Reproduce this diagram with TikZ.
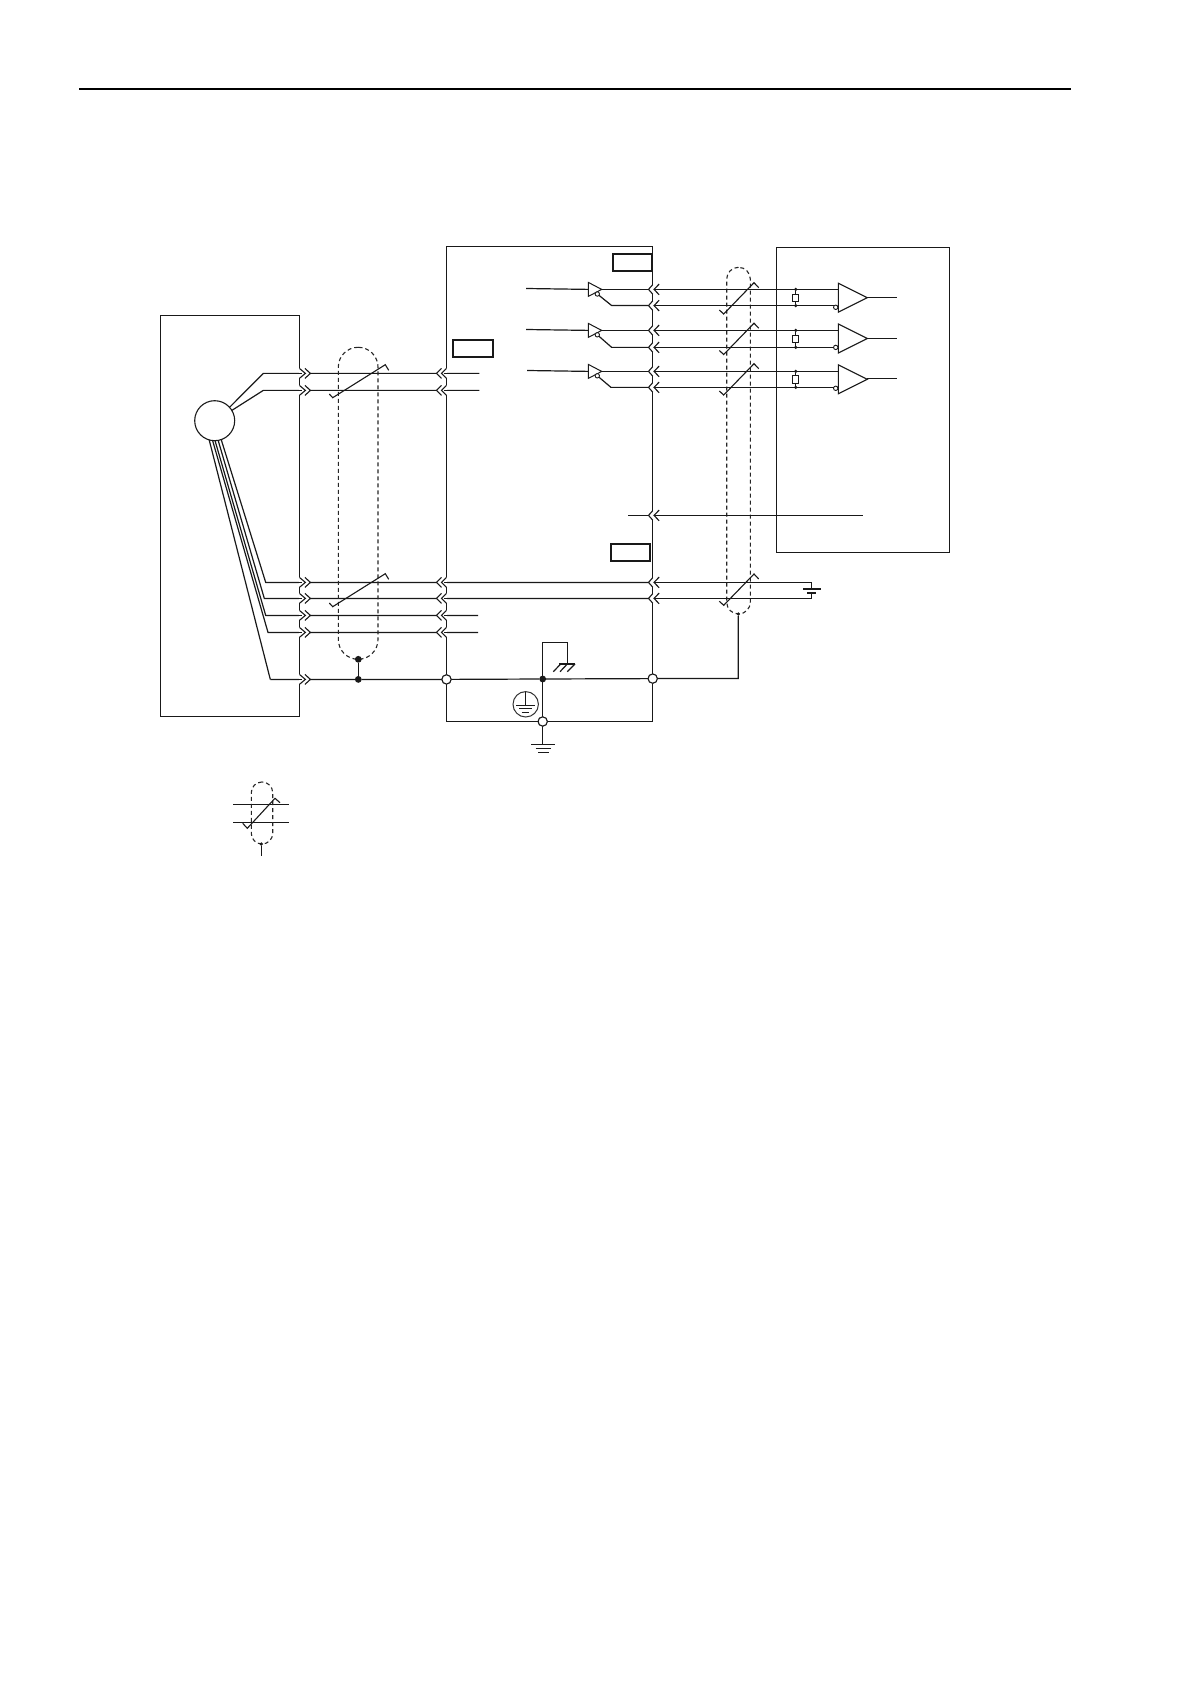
\documentclass[tikz,border=0pt]{standalone}
\usetikzlibrary{fit}
\tikzset{
  wire/.style={line width=0.6pt,black!90,line join=miter},
  boxn/.style={draw,black!90,line width=0.56pt,inner sep=0pt,outer sep=0pt,rectangle},
  labelbox/.style={draw,black!90,line width=1pt,inner sep=0pt,outer sep=0pt,rectangle},
  shieldn/.style={draw,black!85,line width=0.55pt,dash pattern=on 2pt off 1.5pt,inner sep=0pt,outer sep=0pt,rectangle},
  opendot/.style={circle,draw,black!90,fill=white,line width=0.5pt,minimum size=4.6pt,inner sep=0pt,outer sep=0pt},
  soliddot/.style={circle,fill=black!90,minimum size=3.4pt,inner sep=0pt,outer sep=0pt},
  tinydot/.style={circle,fill=black!90,minimum size=1.8pt,inner sep=0pt,outer sep=0pt},
  bubble/.style={circle,draw,black!90,fill=white,line width=0.45pt,minimum size=2.2pt,inner sep=0pt,outer sep=0pt},
  resistor/.style={rectangle,draw,black!90,fill=white,line width=0.5pt,minimum width=3.2pt,minimum height=3.8pt,inner sep=0pt,outer sep=0pt},
  chevr/.pic={\fill[white] (-0.8,-5) rectangle (10.6,5);
     \draw[wire,line width=0.55pt] (-0.8,0)--(3,0);
     \draw[wire,line width=0.55pt] (0,-5)--(6,0)--(0,5) (5.5,-5)--(11,0)--(5.5,5);},
  chevl/.pic={\fill[white] (-9.6,-5) rectangle (0.8,5);
     \draw[wire,line width=0.55pt] (0.8,0)--(-2.5,0);
     \draw[wire,line width=0.55pt] (0,-5)--(-5,0)--(0,5) (-5,-5)--(-10,0)--(-5,5);},
  chevw/.pic={\fill[white] (-3.9,-4.7) rectangle (1.2,4.7);
     \draw[wire,line width=0.55pt] (0,-4.7)--(-4.2,0)--(0,4.7) (6.4,-5.3)--(1.3,0)--(6.4,5.3);},
  slashlong/.pic={\draw[wire,line width=0.55pt] (0,0)--(3.4,3.7)--(56,-29.3)--(59.4,-23.7);},
  slashsteep/.pic={\draw[wire,line width=0.55pt] (0,0)--(4.4,4)--(34.7,-27.3)--(39.4,-22.3);},
  driver/.pic={\draw[wire,line width=0.5pt] (0,-7)--(13.4,0)--(0,7)--cycle;},
  receiver/.pic={\draw[wire,line width=0.55pt] (0,-14.5)--(29,0)--(0,14.5)--cycle;},
}
\begin{document}
\begin{tikzpicture}[x=0.5pt,y=-0.5pt]
\useasboundingbox (0,0) rectangle (1190,1684);
\fill[white] (0,0) rectangle (1190,1684);

% header rule
\coordinate (ruleL) at (79,89.2);
\coordinate (ruleR) at (1071,89.2);
\draw[line width=1pt,black] (ruleL)--(ruleR);

% main boxes
\coordinate (mA) at (160.5,315.4); \coordinate (mB) at (299.4,716.4);
\node[boxn,fit=(mA)(mB)] (motorbox) {};
\coordinate (sA) at (446.5,246.5); \coordinate (sB) at (652.6,721.5);
\node[boxn,fit=(sA)(sB)] (servobox) {};
\coordinate (cA) at (776.5,247.4); \coordinate (cB) at (949.5,552.4);
\node[boxn,fit=(cA)(cB)] (ctrlbox) {};

% empty label boxes
\coordinate (l1A) at (453,340.3); \coordinate (l1B) at (493,357);
\node[labelbox,fit=(l1A)(l1B)] (lblcn2) {};
\coordinate (l2A) at (613,254.3); \coordinate (l2B) at (652,271);
\node[labelbox,fit=(l2A)(l2B)] (lblcn1) {};
\coordinate (l3A) at (610.5,543.6); \coordinate (l3B) at (650,560.6);
\node[labelbox,fit=(l3A)(l3B)] (lblcn3) {};

% motor
\node[circle,draw,black!90,fill=white,line width=0.55pt,minimum size=20pt,inner sep=0pt,outer sep=0pt] (motor) at (214.7,420.7) {};
\coordinate (k1) at (263.3,373.4);
\coordinate (k2) at (263.3,390.4);
\coordinate (k3) at (265.7,582.4);
\coordinate (k4) at (264.3,598.4);
\coordinate (k5) at (265.7,615.4);
\coordinate (k6) at (268,632.4);
\coordinate (k7) at (270.3,679.4);
\coordinate (e1) at (479.3,373.4);
\coordinate (e2) at (479.3,390.4);
\coordinate (e3) at (652.7,582.4);
\coordinate (e4) at (652.7,598.4);
\coordinate (e5) at (478,615.4);
\coordinate (e6) at (478,632.4);
\draw[wire] (motor.42)--(k1)--(e1);
\draw[wire] (motor.31)--(k2)--(e2);
\draw[wire] (motor.-71)--(k3)--(e3);
\draw[wire] (motor.-80)--(k4)--(e4);
\draw[wire] (motor.-89)--(k5)--(e5);
\draw[wire] (motor.-96)--(k6)--(e6);
\draw[wire] (motor.-106)--(k7);

% ground bus
\node[opendot] (gL) at (446.5,679.4) {};
\node[opendot] (gR) at (652.7,678.6) {};
\node[soliddot] (gJ) at (542.7,679) {};
\node[opendot] (gB) at (542.7,721.5) {};
\node[soliddot] (sdot2) at (358.3,679.4) {};
\draw[wire] (k7)--(sdot2)--(gL)--(gJ)--(gR);

% left shield
\coordinate (shA) at (338.3,347.3); \coordinate (shB) at (378,659.3);
\node[shieldn,rounded corners=9.9pt,fit=(shA)(shB)] (shieldL) {};
\node[soliddot] (sdot1) at (358.3,659.3) {};
\draw[wire] (sdot1)--(sdot2);

% right shield
\coordinate (srA) at (726.7,267.3); \coordinate (srB) at (750.3,614);
\node[shieldn,rounded corners=5.9pt,fit=(srA)(srB)] (shieldR) {};
\node[tinydot] (srdot) at (738.3,614) {};
\coordinate (srbend) at (738.3,678.5);
\draw[wire] (srdot)--(srbend)--(gR);

% cable slashes
\pic at (329.3,394) {slashlong};
\pic at (329.3,603) {slashlong};
\pic at (719.3,310) {slashsteep};
\pic at (719.3,350.5) {slashsteep};
\pic at (719.3,391) {slashsteep};
\pic at (719.3,601.3) {slashsteep};

% line drivers
\coordinate (d1) at (588.3,289.4);
\coordinate (d2) at (588.3,330.4);
\coordinate (d3) at (588.3,371.4);
\foreach \dn in {d1,d2,d3} \pic at (\dn) {driver};
\coordinate (di1) at (526,288.5);  \coordinate (dt1) at (601.7,289.4);
\coordinate (di2) at (526,329.5);  \coordinate (dt2) at (601.7,330.4);
\coordinate (di3) at (527,370.5);  \coordinate (dt3) at (601.7,371.4);
\draw[wire] (di1)--(d1);
\draw[wire] (di2)--(d2);
\draw[wire] (di3)--(d3);
\node[bubble] (db1) at (597.3,294) {};
\node[bubble] (db2) at (597.3,334.8) {};
\node[bubble] (db3) at (597.3,375.8) {};
\coordinate (dk1) at (611.7,305.6);
\coordinate (dk2) at (611.7,347.4);
\coordinate (dk3) at (611,387.4);
\coordinate (dw1) at (648.3,305.6);
\coordinate (dw2) at (648.3,347.4);
\coordinate (dw3) at (648.3,387.4);
\draw[wire] (db1)--(dk1)--(dw1);
\draw[wire] (db2)--(dk2)--(dw2);
\draw[wire] (db3)--(dk3)--(dw3);

% receivers
\coordinate (r1) at (838.3,297.7);
\coordinate (r2) at (838.3,338.5);
\coordinate (r3) at (838.3,379.3);
\foreach \rn in {r1,r2,r3} \pic at (\rn) {receiver};
\coordinate (ro1) at (896.7,297.4); \coordinate (rt1) at (867.3,297.4);
\coordinate (ro2) at (896.7,338.4); \coordinate (rt2) at (867.3,338.4);
\coordinate (ro3) at (896.7,378.6); \coordinate (rt3) at (867.3,378.6);
\draw[wire] (rt1)--(ro1);
\draw[wire] (rt2)--(ro2);
\draw[wire] (rt3)--(ro3);
\node[bubble] (rb1) at (835.7,307.3) {};
\node[bubble] (rb2) at (835.7,347.4) {};
\node[bubble] (rb3) at (835.7,388.3) {};
\coordinate (rp1) at (838.3,289.4);
\coordinate (rp2) at (838.3,330.4);
\coordinate (rp3) at (838.3,371.4);
\coordinate (rw1) at (653,289.4);
\coordinate (rw2) at (653,330.4);
\coordinate (rw3) at (653,371.4);
\draw[wire] (dt1)--(rw1)--(rp1);
\draw[wire] (dt2)--(rw2)--(rp2);
\draw[wire] (dt3)--(rw3)--(rp3);
\coordinate (rq1) at (653,305.6);
\coordinate (rq2) at (653,347.4);
\coordinate (rq3) at (653,387.4);
\coordinate (rz1) at (833.6,305.6);
\coordinate (rz2) at (833.6,347.4);
\coordinate (rz3) at (833.6,387.4);
\draw[wire] (rq1)--(rz1);
\draw[wire] (rq2)--(rz2);
\draw[wire] (rq3)--(rz3);

% termination resistors
\node[tinydot] (t1a) at (795.7,289.4) {};
\node[tinydot] (t1b) at (795.7,305.6) {};
\node[tinydot] (t2a) at (795.7,330.4) {};
\node[tinydot] (t2b) at (795.7,347.4) {};
\node[tinydot] (t3a) at (795.7,371.4) {};
\node[tinydot] (t3b) at (795.7,387.4) {};
\draw[wire] (t1a)--(t1b);
\draw[wire] (t2a)--(t2b);
\draw[wire] (t3a)--(t3b);
\node[resistor] (res1) at (795.7,298) {};
\node[resistor] (res2) at (795.7,339) {};
\node[resistor] (res3) at (795.7,379.7) {};

% mid signal
\coordinate (a1) at (628.3,515.4);
\coordinate (a2) at (862.7,515.4);
\draw[wire] (a1)--(a2);

% battery
\coordinate (b1) at (811.7,582.4);
\coordinate (b2) at (811.7,589);
\coordinate (b3) at (811.7,592.7);
\coordinate (b4) at (811.7,598.4);
\draw[wire] (e3)--(b1)--(b2);
\draw[wire] (e4)--(b4)--(b3);
\coordinate (bp1a) at (803.3,589); \coordinate (bp1b) at (820.7,589);
\coordinate (bp2a) at (807.3,592.7); \coordinate (bp2b) at (816,592.7);
\draw[wire,line width=0.9pt] (bp1a)--(bp1b);
\draw[wire,line width=0.8pt] (bp2a)--(bp2b);

% FG / chassis
\coordinate (f1) at (542.7,642.4);
\coordinate (f2) at (567.3,642.4);
\coordinate (f3) at (567.3,664);
\draw[wire] (gJ)--(f1)--(f2)--(f3);
\draw[wire] (559.3,664)--(575,664);
\draw[wire] (560.7,664)--(553.3,671.7);
\draw[wire] (567.3,664)--(560,671.7);
\draw[wire] (575,664)--(567.3,671.7);
\draw[wire] (gJ)--(gB);

% earth
\coordinate (g0) at (542.7,744.4);
\draw[wire] (gB)--(g0);
\draw[wire] (531,744.4)--(555.3,744.4);
\draw[wire] (535.7,748.6)--(550.7,748.6);
\draw[wire] (538.3,752.6)--(549.3,752.6);

% protective earth symbol
\node[circle,draw,black!80,line width=0.5pt,minimum size=12.7pt,inner sep=0pt,outer sep=0pt] (pe) at (525.7,704.3) {};
\coordinate (pe0) at (525.7,705.7);
\draw[wire,line width=0.5pt] (pe.north)--(pe0);
\draw[wire,line width=0.5pt] (516,705.7)--(535.3,705.7);
\draw[wire,line width=0.5pt] (519.3,708.9)--(532,708.9);
\draw[wire,line width=0.5pt] (521.7,712)--(529.3,712);

% connector chevrons, over wires and walls
\foreach \yy in {373.4,390.4,582.4,598.4,615.4,632.4,679.4}
  \pic at (299.4,\yy) {chevr};
\foreach \yy in {373.4,390.4,582.4,598.4,615.4,632.4}
  \pic at (446.5,\yy) {chevl};
\foreach \yy in {289.4,305.6,330.4,347.4,371.4,387.4,515.4,582.4,598.4}
  \pic at (652.7,\yy) {chevw};

% redraw open dots above box outlines
\node[opendot] at (gL) {};
\node[opendot] at (gR) {};
\node[opendot] at (gB) {};

% legend
\coordinate (la) at (233.3,804.4); \coordinate (lb) at (288.7,804.4);
\coordinate (lc) at (233.3,822.4); \coordinate (ld) at (288.7,822.4);
\draw[wire] (la)--(lb);
\draw[wire] (lc)--(ld);
\coordinate (lsA) at (251.3,782); \coordinate (lsB) at (272.7,844);
\node[shieldn,rounded corners=5.3pt,fit=(lsA)(lsB)] (legshield) {};
\draw[wire,line width=0.55pt] (242.7,823.3)--(247.3,828.3)--(275,798.3)--(280,802.7);
\node[tinydot] (ldot) at (261.3,844) {};
\coordinate (lend) at (261.3,856);
\draw[wire] (ldot)--(lend);
\end{tikzpicture}
\end{document}
